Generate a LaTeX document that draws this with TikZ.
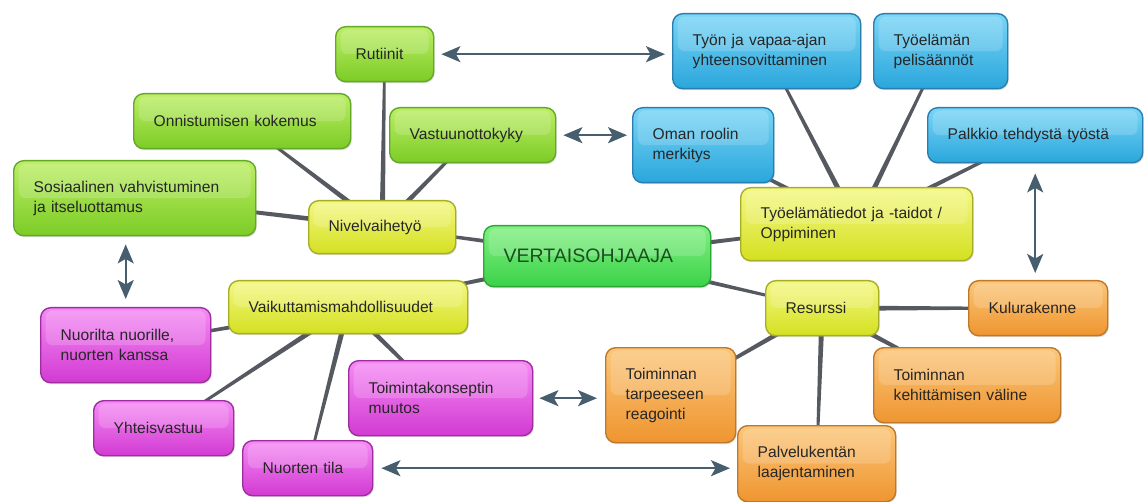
\documentclass[tikz,border=0pt]{standalone}
\usepackage{fontspec}
\setmainfont{Liberation Sans}
\usetikzlibrary{arrows.meta,calc,shadows}
\definecolor{gT}{HTML}{BDEE66}\definecolor{gB}{HTML}{7CCC26}\definecolor{gD}{HTML}{64A82A}
\definecolor{yT}{HTML}{F4F884}\definecolor{yB}{HTML}{D4E020}\definecolor{yD}{HTML}{A6AE28}
\definecolor{cT}{HTML}{82F082}\definecolor{cB}{HTML}{3CD24A}\definecolor{cD}{HTML}{2AA836}
\definecolor{bT}{HTML}{7AD6F6}\definecolor{bB}{HTML}{2AA6DC}\definecolor{bD}{HTML}{2A7EAE}
\definecolor{oT}{HTML}{FBC77A}\definecolor{oB}{HTML}{EF9530}\definecolor{oD}{HTML}{BE782A}
\definecolor{mT}{HTML}{F58CF5}\definecolor{mB}{HTML}{D23AD2}\definecolor{mD}{HTML}{9E2E9E}
\definecolor{txt}{HTML}{262626}
\definecolor{ctxt}{HTML}{1C4F22}
\definecolor{arrc}{HTML}{475E6E}
\definecolor{connc}{HTML}{565A60}
\pgfdeclarelayer{background}
\pgfsetlayers{background,main}
\newcommand\conn[2]{\fill[connc] ($(#1)!2.8pt!90:(#2)$) -- ($(#2)!1.1pt!-90:(#1)$) -- ($(#2)!1.1pt!90:(#1)$) -- ($(#1)!2.8pt!-90:(#2)$) -- cycle;}
\tikzset{
  base/.style={draw, line width=1.4pt, rounded corners=10pt, anchor=north west, align=left,
    inner xsep=20pt, inner ysep=0pt, text=txt,
    font=\fontsize{15.6}{20}\selectfont,
    drop shadow={shadow xshift=1pt,shadow yshift=-1.5pt,opacity=0.25},
    path picture={\fill[white,opacity=0.17,rounded corners=7pt]
      ($(path picture bounding box.north west)+(5,3)$) rectangle
      ($(path picture bounding box.east)+(-5,0)$);}},
  gbox/.style={base, draw=gD, top color=gT, bottom color=gB},
  ybox/.style={base, draw=yD, top color=yT, bottom color=yB},
  cbox/.style={base, draw=cD, top color=cT, bottom color=cB, text=ctxt,
    font=\fontsize{19.5}{23}\selectfont},
  bbox/.style={base, draw=bD, top color=bT, bottom color=bB},
  obox/.style={base, draw=oD, top color=oT, bottom color=oB},
  mbox/.style={base, draw=mD, top color=mT, bottom color=mB},
  arr/.style={draw=arrc, line width=2.2pt,
    {Stealth[length=19pt,width=16pt,inset=4.5pt]}-{Stealth[length=19pt,width=16pt,inset=4.5pt]}}
}
\begin{document}
\begin{tikzpicture}[x=1pt,y=-1pt]
\useasboundingbox (0,0) rectangle (1145,502);
% green
\node[gbox, minimum height=55pt, text width=58pt] (rut) at (335,26) {Rutiinit};
\node[gbox, minimum height=55pt, text width=177pt] (onn) at (133,93) {Onnistumisen kokemus};
\node[gbox, minimum height=75pt, text width=202pt] (sos) at (13,160) {Sosiaalinen vahvistuminen\\ja itseluottamus};
\node[gbox, minimum height=55pt, text width=126pt] (vas) at (389,107) {Vastuunottokyky};
% yellow
\node[ybox, minimum height=53pt, text width=107pt] (niv) at (308,200) {Nivelvaihetyö};
\node[ybox, minimum height=73pt, text width=192pt] (tyoel) at (740,187) {Työelämätiedot ja -taidot /\\Oppiminen};
\node[ybox, minimum height=53pt, text width=199pt] (vai) at (228,280) {Vaikuttamismahdollisuudet};
\node[ybox, minimum height=55pt, text width=73pt] (res) at (765,280) {Resurssi};
% central
\node[cbox, minimum height=61pt, text width=187pt] (vert) at (483,225) {VERTAISOHJAAJA};
% blue
\node[bbox, minimum height=75pt, text width=148pt] (tyon) at (672,13) {Työn ja vapaa-ajan\\yhteensovittaminen};
\node[bbox, minimum height=75pt, text width=94pt] (pel) at (873,13) {Työelämän\\pelisäännöt};
\node[bbox, minimum height=75pt, text width=101pt] (oman) at (632,107) {Oman roolin\\merkitys};
\node[bbox, minimum height=55pt, text width=175pt] (pal) at (927,107) {Palkkio tehdystä työstä};
% orange
\node[obox, minimum height=55pt, text width=99pt] (kul) at (968,280) {Kulurakenne};
\node[obox, minimum height=75pt, text width=147pt] (keh) at (873,347) {Toiminnan\\kehittämisen väline};
\node[obox, minimum height=76pt, text width=118pt] (palv) at (737,425) {Palvelukentän\\laajentaminen};
\node[obox, minimum height=95pt, text width=90pt] (tar) at (605,347) {Toiminnan\\tarpeeseen\\reagointi};
% magenta
\node[mbox, minimum height=75pt, text width=144pt] (kon) at (348,360) {Toimintakonseptin\\muutos};
\node[mbox, minimum height=75pt, text width=130pt] (nuo) at (40,307) {Nuorilta nuorille,\\nuorten kanssa};
\node[mbox, minimum height=55pt, text width=100pt] (yht) at (93,400) {Yhteisvastuu};
\node[mbox, minimum height=55pt, text width=90pt] (nti) at (242,440) {Nuorten tila};
% connectors
\begin{pgfonlayer}{background}
\fill[white] (0,0) rectangle (1145,502);
\conn{niv}{rut}
\conn{niv}{onn}
\conn{niv}{sos}
\conn{niv}{vas}
\conn{vert}{niv}
\conn{tyoel}{tyon}
\conn{tyoel}{pel}
\conn{tyoel}{oman}
\conn{tyoel}{pal}
\conn{vert}{tyoel}
\conn{vert}{vai}
\conn{vert}{res}
\conn{res}{kul}
\conn{res}{keh}
\conn{res}{palv}
\conn{res}{tar}
\conn{vai}{nuo}
\conn{vai}{yht}
\conn{vai}{nti}
\conn{vai}{kon}
\end{pgfonlayer}
% arrows
\draw[arr, shorten <=7pt, shorten >=7pt] (rut.east) -- (tyon.west |- rut.east);
\draw[arr, shorten <=7pt, shorten >=5pt] (vas.east) -- (oman.west |- vas.east);
\draw[arr, shorten <=8pt, shorten >=8pt] (nuo.north |- sos.south) -- (nuo.north);
\draw[arr, shorten <=10pt, shorten >=7pt] (pal.south) -- (pal.south |- kul.north);
\draw[arr, shorten <=6pt, shorten >=8pt] (kon.east) -- (tar.west |- kon.east);
\draw[arr, shorten <=8pt, shorten >=7pt] (nti.east) -- (palv.west |- nti.east);
\end{tikzpicture}
\end{document}
